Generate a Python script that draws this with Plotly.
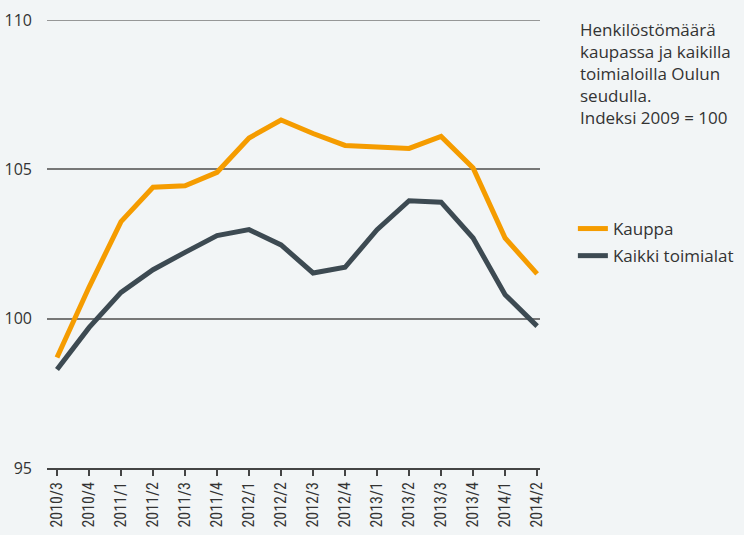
import plotly.graph_objects as go

quarters = ["2010/3", "2010/4", "2011/1", "2011/2", "2011/3", "2011/4", "2012/1", "2012/2",
            "2012/3", "2012/4", "2013/1", "2013/2", "2013/3", "2013/4", "2014/1", "2014/2"]
kauppa = [98.7, 101.05, 103.25, 104.4, 104.45, 104.9, 106.05, 106.65,
          106.2, 105.8, 105.75, 105.7, 106.1, 105.05, 102.7, 101.5]
kaikki = [98.3, 99.7, 100.88, 101.64, 102.22, 102.78, 102.98, 102.47,
          101.53, 101.72, 102.98, 103.95, 103.9, 102.7, 100.8, 99.75]
y_ticks = [95, 100, 105, 110]

bg = "#f2f5f6"
txt = "#333333"
grid = "#777777"
main_font = "Open Sans, Noto Sans, sans-serif"

fig = go.Figure()
fig.add_trace(go.Scatter(x=quarters, y=kauppa, name="Kauppa", mode="lines",
                         legendgroup="a",
                         line=dict(color="#f59c00", width=5)))
fig.add_trace(go.Scatter(x=quarters, y=kaikki, name="Kaikki toimialat", mode="lines",
                         legendgroup="b",
                         line=dict(color="#3d4a52", width=5)))

fig.update_layout(
    width=744, height=535,
    margin=dict(l=47, r=204, t=20, b=67, autoexpand=False),
    paper_bgcolor=bg, plot_bgcolor=bg,
    font=dict(family=main_font, color=txt, size=16),
    showlegend=True,
    legend=dict(xref="container", yref="container",
                x=0.770, y=1 - 211 / 535, xanchor="left", yanchor="top",
                bgcolor="rgba(0,0,0,0)", font=dict(size=17, color=txt),
                traceorder="grouped", tracegroupgap=2, itemwidth=30),
    xaxis=dict(type="category", range=[-0.3125, 15.09], showgrid=False,
               showline=True, linecolor="#444444", linewidth=1.5,
               ticks="outside", ticklen=6, tickcolor="#444444", tickwidth=1.5,
               tickangle=-90, automargin=False,
               tickfont=dict(family="Roboto Condensed, Liberation Sans Narrow, sans-serif",
                             size=16, color=txt),
               zeroline=False),
    yaxis=dict(range=[95, 110], tickvals=y_ticks, showgrid=True,
               gridcolor=grid, gridwidth=1.5, zeroline=False,
               showline=False, ticks="", ticklabelstandoff=14, automargin=False,
               tickfont=dict(size=16, color=txt)),
)

# top gridline (plotly omits the one on the range edge)
fig.add_shape(type="line", xref="paper", yref="y", x0=0, x1=1,
              y0=y_ticks[-1], y1=y_ticks[-1], line=dict(color=grid, width=1.5))

fig.add_annotation(
    xref="paper", yref="paper", x=(578 - 47) / 493, y=(468 - 16) / 448,
    xanchor="left", yanchor="top", align="left", showarrow=False,
    text="Henkilöstömäärä<br>kaupassa ja kaikilla<br>toimialoilla Oulun<br>seudulla.<br>Indeksi 2009 = 100",
    font=dict(size=17, color=txt),
)

fig.write_html("out.html", config={"displayModeBar": False},
               post_script="document.body.style.margin='0';")
